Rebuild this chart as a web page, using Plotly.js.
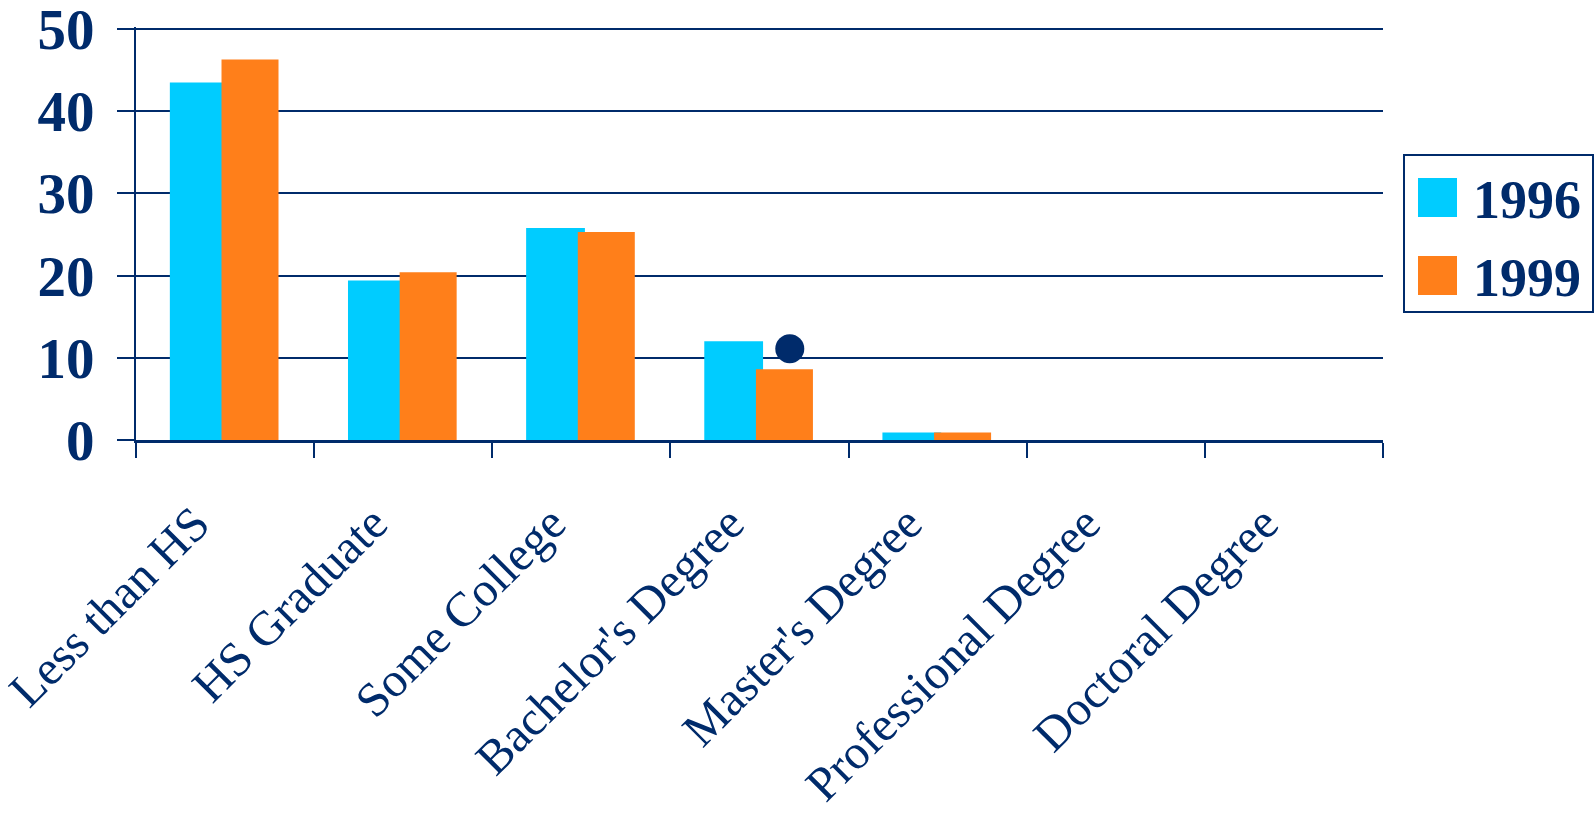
<!DOCTYPE html>
<html>
<head>
<meta charset="utf-8">
<script src="https://cdn.plot.ly/plotly-3.0.1.min.js"></script>
<style>html,body{margin:0;padding:0;background:#fff;}#chart{width:1595px;height:815px;}</style>
</head>
<body>
<div id="chart"></div>
<script>
const categories = ["Less than HS", "HS Graduate", "Some College", "Bachelor's Degree", "Master's Degree", "Professional Degree", "Doctoral Degree"];
const seriesNames = ["1996", "1999"];
const values1996 = [43.5, 19.4, 25.8, 12.0, 0.9, 0, 0];
const values1999 = [46.3, 20.4, 25.3, 8.6, 0.9, 0, 0];
const markerCategory = "Bachelor's Degree";
const markerValues = [11.1];
const yTickValues = [0, 10, 20, 30, 40, 50];

const NAVY = "#002B6B";
const CYAN = "#00CCFF";
const ORANGE = "#FF7F1A";
const SERIF = "Liberation Serif";

const W = 1595, H = 815;
const YMAX = 50.25;
const L = 136, R = 1383, B = 440, T = 440 - 411 * YMAX / 50;
const px = x => (x - L) / (R - L);
const py = y => (B - y) / (B - T);

const traces = [
  {type: "bar", name: seriesNames[0], x: categories, y: values1996,
   marker: {color: CYAN}, width: 0.33, offset: -0.31, showlegend: false, hoverinfo: "x+y"},
  {type: "bar", name: seriesNames[1], x: categories, y: values1999,
   marker: {color: ORANGE}, width: 0.32, offset: -0.02, showlegend: false, hoverinfo: "x+y"},
  {type: "scatter", mode: "markers", xaxis: "x2", yaxis: "y",
   x: [categories.indexOf(markerCategory) + 0.17], y: markerValues,
   marker: {color: NAVY, size: 29}, showlegend: false, hoverinfo: "y"}
];

const shapes = [
  {type: "line", xref: "paper", yref: "y", x0: 0, x1: 1,
   y0: yTickValues[yTickValues.length - 1], y1: yTickValues[yTickValues.length - 1],
   line: {color: NAVY, width: 2}, layer: "above"},
  {type: "rect", xref: "paper", yref: "paper", x0: px(1404), x1: px(1593), y0: py(155), y1: py(312),
   line: {color: NAVY, width: 2}, fillcolor: "#ffffff", layer: "above"},
  {type: "rect", xref: "paper", yref: "paper", x0: px(1418), x1: px(1457), y0: py(178), y1: py(217),
   line: {width: 0}, fillcolor: CYAN, layer: "above"},
  {type: "rect", xref: "paper", yref: "paper", x0: px(1418), x1: px(1457), y0: py(256), y1: py(295),
   line: {width: 0}, fillcolor: ORANGE, layer: "above"}
];
const annotations = [
  {xref: "paper", yref: "paper", x: px(1471), y: py(200), xanchor: "left", yanchor: "middle",
   text: seriesNames[0], showarrow: false, font: {family: SERIF, size: 54, color: NAVY, weight: "bold"}},
  {xref: "paper", yref: "paper", x: px(1471), y: py(278), xanchor: "left", yanchor: "middle",
   text: seriesNames[1], showarrow: false, font: {family: SERIF, size: 54, color: NAVY, weight: "bold"}}
];

const layout = {
  width: W, height: H,
  margin: {l: L, r: W - R, t: T, b: H - B, pad: 0},
  paper_bgcolor: "#ffffff", plot_bgcolor: "#ffffff",
  barmode: "group",
  showlegend: false,
  xaxis: {
    type: "category", range: [-0.5, 6.5], fixedrange: true,
    tickson: "boundaries", ticks: "outside", ticklen: 15, tickwidth: 2, tickcolor: NAVY,
    showline: true, linecolor: NAVY, linewidth: 2.5, showgrid: false, zeroline: false,
    tickangle: -45, ticklabelstandoff: 33, ticklabelshift: -30,
    tickfont: {family: SERIF, size: 48.5, color: NAVY}
  },
  xaxis2: {overlaying: "x", range: [-0.5, 6.5], visible: false, fixedrange: true},
  yaxis: {
    range: [0, YMAX], tickvals: yTickValues, fixedrange: true,
    ticks: "outside", ticklen: 17, tickwidth: 2, tickcolor: NAVY,
    showline: true, linecolor: NAVY, linewidth: 2,
    showgrid: true, gridcolor: NAVY, gridwidth: 2, zeroline: false,
    ticklabelstandoff: 11, ticklabeloverflow: "allow",
    tickfont: {family: SERIF, size: 57, color: NAVY, weight: "bold"}
  },
  shapes: shapes,
  annotations: annotations
};

Plotly.newPlot("chart", traces, layout, {displayModeBar: false, staticPlot: true});
</script>
</body>
</html>
